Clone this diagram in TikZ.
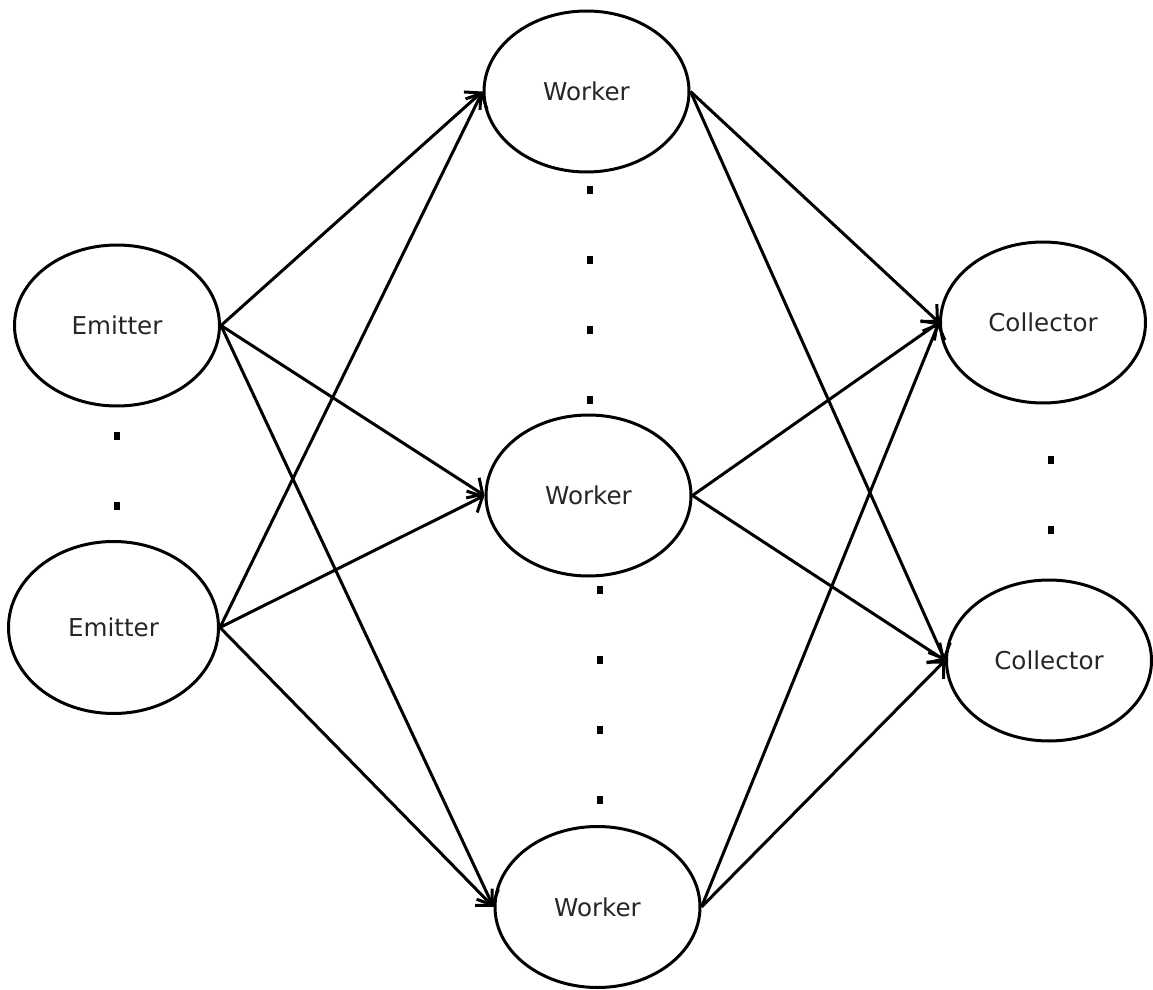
\documentclass[tikz,border=0pt]{standalone}
\usepackage{fontspec}
\setmainfont{DejaVu Sans}
\usetikzlibrary{shapes.geometric,arrows.meta}

\begin{document}
\begin{tikzpicture}[x=50pt,y=50pt,
  stage/.style={draw,ellipse,line width=1.5pt,minimum width=102.5pt,minimum height=80.5pt,inner sep=0pt,text=black!85,font=\fontsize{12.3}{15}\selectfont},
  etcdot/.style={fill,inner sep=0pt,minimum width=3.2pt,minimum height=3.6pt},
  flow/.style={line width=1.5pt,-{Straight Barb[length=6pt,width=12pt,line width=1.5pt]}}]
\useasboundingbox (0,0) rectangle (11.53,-9.90);
\node[stage] (e1) at (1.17,-3.255) {Emitter};
\node[stage,minimum width=105pt,minimum height=86pt] (e2) at (1.135,-6.275) {Emitter};
\node[stage] (w1) at (5.865,-0.915) {Worker};
\node[stage] (w2) at (5.885,-4.955) {Worker};
\node[stage] (w3) at (5.975,-9.07) {Worker};
\node[stage] (c1) at (10.43,-3.225) {Collector};
\node[stage] (c2) at (10.49,-6.605) {Collector};
\node[etcdot] (ed1) at (1.17,-4.36) {};
\node[etcdot] (ed2) at (1.17,-5.06) {};
\node[etcdot] (wa1) at (5.90,-1.90) {};
\node[etcdot] (wa2) at (5.90,-2.60) {};
\node[etcdot] (wa3) at (5.90,-3.30) {};
\node[etcdot] (wa4) at (5.90,-4.00) {};
\node[etcdot] (wb1) at (6.00,-5.90) {};
\node[etcdot] (wb2) at (6.00,-6.60) {};
\node[etcdot] (wb3) at (6.00,-7.30) {};
\node[etcdot] (wb4) at (6.00,-8.00) {};
\node[etcdot] (cd1) at (10.51,-4.60) {};
\node[etcdot] (cd2) at (10.51,-5.30) {};
\draw[flow] (e1.east) -- (w1.west);
\draw[flow] (e1.east) -- (w2.west);
\draw[flow] (e1.east) -- (w3.west);
\draw[flow] (e2.east) -- (w1.west);
\draw[flow] (e2.east) -- (w2.west);
\draw[flow] (e2.east) -- (w3.west);
\draw[flow] (w1.east) -- (c1.west);
\draw[flow] (w1.east) -- (c2.west);
\draw[flow] (w2.east) -- (c1.west);
\draw[flow] (w2.east) -- (c2.west);
\draw[flow] (w3.east) -- (c1.west);
\draw[flow] (w3.east) -- (c2.west);
\end{tikzpicture}
\end{document}
